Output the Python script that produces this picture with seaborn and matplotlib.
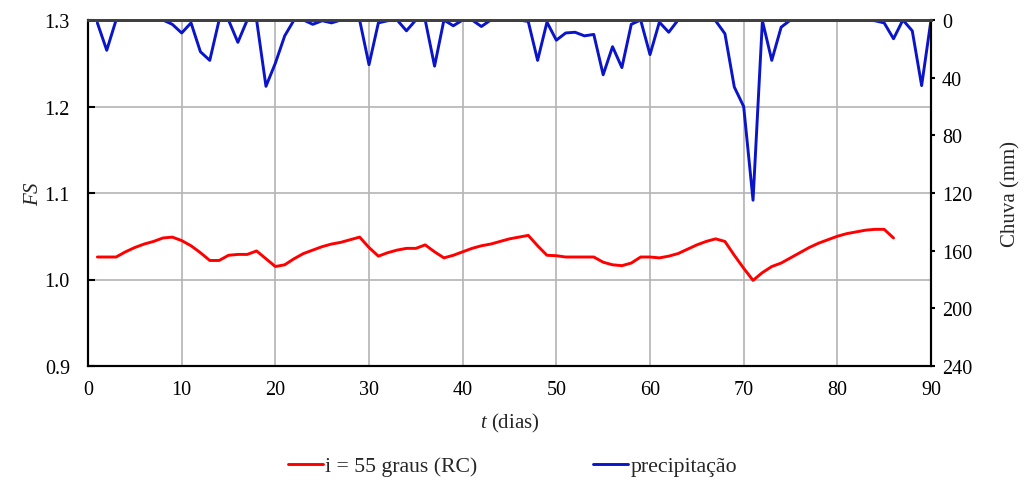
import numpy as np
import pandas as pd
import matplotlib
matplotlib.use("Agg")
import matplotlib.pyplot as plt
import seaborn as sns

# ---- data ----
dias_fs = list(range(1, 87))
fs = [1.026, 1.026, 1.026, 1.032, 1.037, 1.041, 1.044, 1.048, 1.049, 1.045,
      1.039, 1.031, 1.022, 1.022, 1.028, 1.029, 1.029, 1.033, 1.024, 1.015,
      1.017, 1.024, 1.030, 1.034, 1.038, 1.041, 1.043, 1.046, 1.049, 1.037,
      1.027, 1.031, 1.034, 1.036, 1.036, 1.040, 1.032, 1.025, 1.028, 1.032,
      1.036, 1.039, 1.041, 1.044, 1.047, 1.049, 1.051, 1.039, 1.028, 1.0275,
      1.026, 1.026, 1.026, 1.026, 1.020, 1.017, 1.016, 1.019, 1.026, 1.026,
      1.025, 1.027, 1.030, 1.035, 1.040, 1.044, 1.047, 1.044, 1.028, 1.013,
      0.999, 1.008, 1.015, 1.019, 1.025, 1.031, 1.037, 1.042, 1.046, 1.050,
      1.053, 1.055, 1.057, 1.058, 1.058, 1.048]

dias_chuva = list(range(1, 91))
chuva = [2, 21, 0, 0, 0, 0, 0, 0, 3, 9,
         2, 22, 28, 0, 0, 15.5, 0, 0, 46, 30,
         11, 0, 0, 3, 0.5, 2, 0, 0, 0, 31,
         2, 0.5, 0, 7.5, 0, 0, 32, 0, 4, 0,
         0, 4.5, 0, 0, 0, 0, 1, 28, 1.5, 14,
         9, 8.5, 11, 10, 38, 18.5, 33, 3, 0, 24,
         1.5, 8.5, 0, 0, 0, 0, 0.5, 9.5, 46.5, 60,
         125, 0.5, 28, 5, 0, 0, 0, 0, 0, 0,
         0, 0, 0, 0.5, 2, 13, 0, 7.5, 45.5, 0]

x_ticks = [0, 10, 20, 30, 40, 50, 60, 70, 80, 90]
fs_ticks = [0.9, 1.0, 1.1, 1.2, 1.3]
chuva_ticks = [0, 40, 80, 120, 160, 200, 240]

label_fs = "i = 55 graus (RC)"
label_chuva = "precipitação"

df_fs = pd.DataFrame({"t": dias_fs, "FS": fs})
df_ch = pd.DataFrame({"t": dias_chuva, "Chuva": chuva})

# ---- style ----
sns.set_style("white")
plt.rcParams["font.family"] = ["Liberation Serif", "DejaVu Serif"]
plt.rcParams["mathtext.fontset"] = "custom"
plt.rcParams["mathtext.it"] = "Liberation Serif:italic"
plt.rcParams["mathtext.rm"] = "Liberation Serif"

fig = plt.figure(figsize=(10.25, 4.81), dpi=100)
ax = fig.add_axes([88/1025, 1-367/481, (931-88)/1025, (367-21)/481])
ax2 = ax.twinx()

red = "#ff0000"
blue = "#0a14c8"

sns.lineplot(data=df_fs, x="t", y="FS", ax=ax, color=red, linewidth=2.1,
             label=label_fs, legend=False)
sns.lineplot(data=df_ch, x="t", y="Chuva", ax=ax2, color=blue, linewidth=2.1,
             label=label_chuva, legend=False)

ax.set_xlim(0, 90)
ax.set_ylim(0.9, 1.3)
ax.set_xticks(x_ticks)
ax.set_yticks(fs_ticks)
ax.set_yticklabels([f"{v:.1f}" for v in fs_ticks])
ax2.set_ylim(240, 0)
ax2.set_yticks(chuva_ticks)

ax.grid(True, color="#b4b4b4", linewidth=1.2)
ax2.grid(False)
ax.set_axisbelow(True)

fsz = 14.5
ax.tick_params(axis="x", labelsize=fsz, direction="out", length=0, pad=10, colors="black")
ax.tick_params(axis="y", labelsize=fsz, direction="in", length=5, width=1.5, pad=13, colors="black")
ax2.tick_params(axis="y", labelsize=fsz, direction="out", length=3, width=1.5, pad=5, colors="black")

for a in (ax, ax2):
    for s in a.spines.values():
        s.set_color("black")
        s.set_linewidth(1.5)
    a.spines["top"].set_color("#404040")
    a.spines["top"].set_linewidth(2)

ax.set_xlabel(r"$t$ (dias)", fontsize=fsz + 0.5, labelpad=9)
ax.set_ylabel(r"$FS$", fontsize=fsz + 0.5, labelpad=1)
ax2.set_ylabel("Chuva (mm)", fontsize=fsz + 0.5, labelpad=21)

h1, l1 = ax.get_legend_handles_labels()
h2, l2 = ax2.get_legend_handles_labels()
fig.legend(h1 + h2, l1 + l2, loc="center", bbox_to_anchor=(0.5, 1 - 467/481),
           ncol=2, frameon=False, fontsize=15.7, handlelength=1.6,
           handletextpad=0.1, columnspacing=5.3)

fig.savefig("out.png", dpi=100)
